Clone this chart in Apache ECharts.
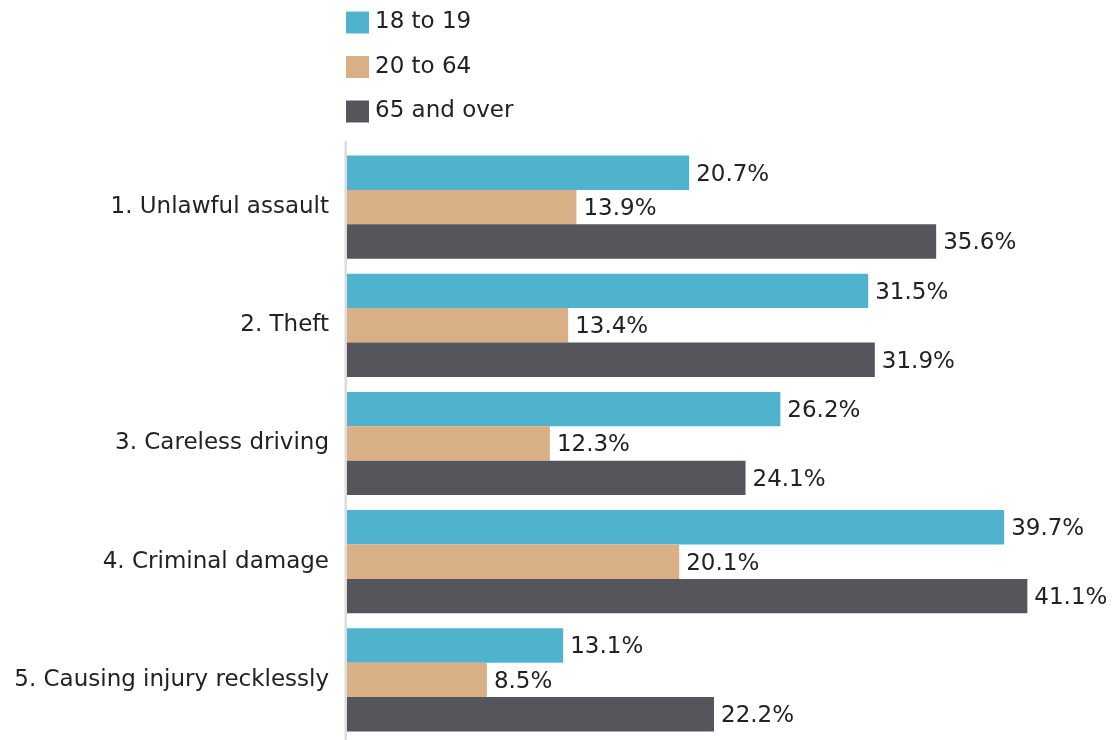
<!DOCTYPE html>
<html>
<head>
<meta charset="utf-8">
<script src="https://cdn.jsdelivr.net/npm/echarts@6/dist/echarts.min.js"></script>
<style>
  html, body { margin: 0; padding: 0; background: #fff; }
  #chart { width: 1115px; height: 740px; }
</style>
</head>
<body>
<div id="chart"></div>
<script>
// Offence categories and share (%) per age group
const categories = [
  '1. Unlawful assault',
  '2. Theft',
  '3. Careless driving',
  '4. Criminal damage',
  '5. Causing injury recklessly'
];
const seriesNames = ['18 to 19', '20 to 64', '65 and over'];
const age18to19 = [20.7, 31.5, 26.2, 39.7, 13.1];
const age20to64 = [13.9, 13.4, 12.3, 20.1, 8.5];
const age65plus = [35.6, 31.9, 24.1, 41.1, 22.2];
const colors = ['#4FB3CE', '#D9B085', '#54565B'];

const FONT = 'DejaVu Sans';
const TEXT = '#222222';

const chart = echarts.init(document.getElementById('chart'), null, { renderer: 'canvas' });

function barSeries(name, data, color) {
  return {
    name: name,
    type: 'bar',
    data: data,
    barGap: '0%',
    barCategoryGap: '12.7%',
    itemStyle: { color: color },
    label: {
      show: true,
      position: 'right',
      distance: 7,
      offset: [0, 2],
      fontFamily: FONT,
      fontSize: 23,
      color: TEXT,
      formatter: p => p.value.toFixed(1) + '%'
    },
    emphasis: { disabled: true },
    animation: false
  };
}

chart.setOption({
  animation: false,
  textStyle: { fontFamily: FONT },
  legend: {
    orient: 'vertical',
    left: 346,
    top: 11,
    padding: 0,
    itemWidth: 23,
    itemHeight: 22,
    itemGap: 21.5,
    icon: 'rect',
    textStyle: { fontFamily: FONT, fontSize: 23, color: TEXT, padding: [2, 0, 0, 1] },
    selectedMode: false,
    data: seriesNames
  },
  grid: { left: 346, right: 23, top: 148, height: 591, containLabel: false },
  xAxis: {
    type: 'value',
    min: 0,
    max: 45,
    show: false
  },
  yAxis: {
    type: 'category',
    inverse: true,
    data: categories,
    axisLine: { show: false },
    axisTick: { show: false },
    axisLabel: { fontFamily: FONT, fontSize: 23, color: TEXT, margin: 17, padding: [6, 0, 0, 0] }
  },
  graphic: [{
    type: 'rect',
    shape: { x: 344.5, y: 141, width: 2.5, height: 599 },
    style: { fill: '#DCDCDC' },
    z: 10
  }],
  series: [
    barSeries(seriesNames[0], age18to19, colors[0]),
    barSeries(seriesNames[1], age20to64, colors[1]),
    barSeries(seriesNames[2], age65plus, colors[2])
  ]
});
</script>
</body>
</html>
